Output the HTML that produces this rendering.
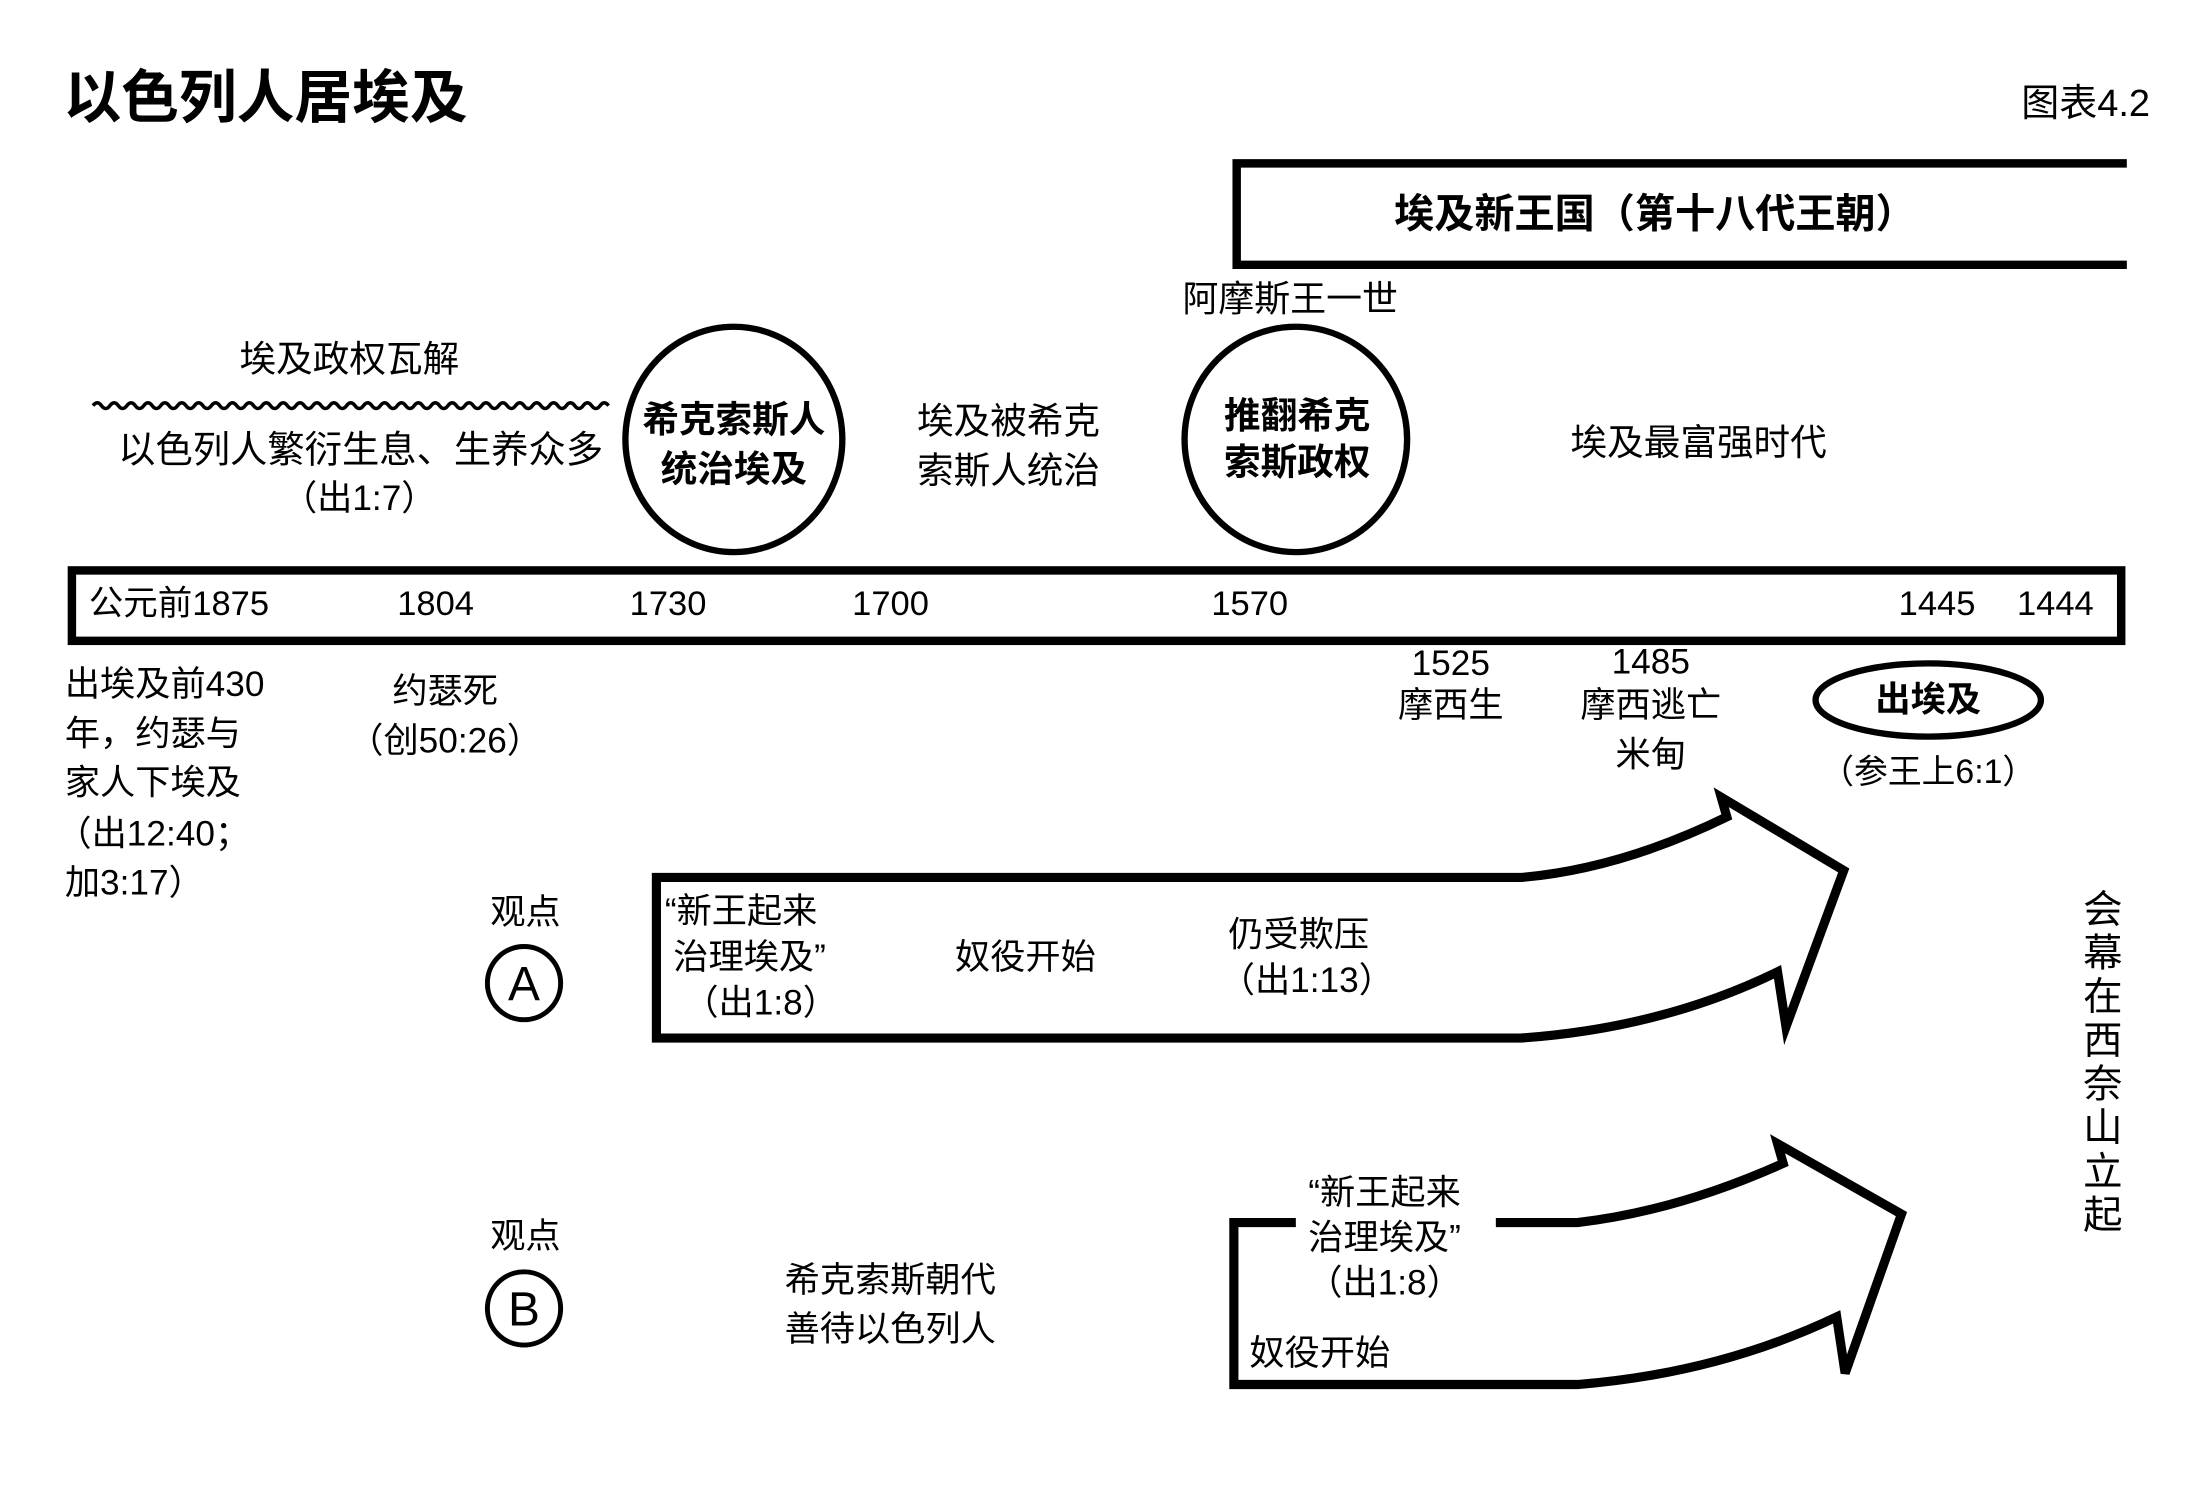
<!DOCTYPE html>
<html><head><meta charset="utf-8"><style>
html,body{margin:0;padding:0;background:#fff;}
svg{display:block;}
text{font-family:"Liberation Sans","Noto Sans CJK SC",sans-serif;fill:#000;dominant-baseline:central;}
.b{font-weight:bold;}
</style></head><body>
<svg width="2210" height="1500" viewBox="0 0 1569 1065" xmlns="http://www.w3.org/2000/svg">
<rect width="1569" height="1065" fill="#fff"/>
<text x="45" y="70" font-size="41" class="b">以色列人居埃及</text>
<text x="1435" y="74" font-size="27">图表4.2</text>

<path d="M1510,116 L878,116 L878,188 L1510,188" fill="none" stroke="#000" stroke-width="6"/>
<text x="1175" y="152" font-size="28.5" class="b" text-anchor="middle">埃及新王国（第十八代王朝）</text>
<text x="916" y="212" font-size="25.5" text-anchor="middle">阿摩斯王一世</text>

<text x="248" y="255" font-size="26" text-anchor="middle">埃及政权瓦解</text>
<path d="M66,288 q3,-4 6,0 t6,0 t6,0 t6,0 t6,0 t6,0 t6,0 t6,0 t6,0 t6,0 t6,0 t6,0 t6,0 t6,0 t6,0 t6,0 t6,0 t6,0 t6,0 t6,0 t6,0 t6,0 t6,0 t6,0 t6,0 t6,0 t6,0 t6,0 t6,0 t6,0 t6,0 t6,0 t6,0 t6,0 t6,0 t6,0 t6,0 t6,0 t6,0 t6,0 t6,0 t6,0 t6,0 t6,0 t6,0 t6,0 t6,0 t6,0 t6,0 t6,0 t6,0 t6,0 t6,0 t6,0 t6,0 t6,0 t6,0 t6,0 t6,0 t6,0 t6,0" fill="none" stroke="#000" stroke-width="2.5"/>
<text x="256" y="319" font-size="26.5" text-anchor="middle">以色列人繁衍生息、生养众多</text>
<text x="255" y="354" font-size="25" text-anchor="middle">（出1:7）</text>

<ellipse cx="521" cy="312" rx="77" ry="80" fill="#fff" stroke="#000" stroke-width="4.5"/>
<text x="521" y="298" font-size="26" class="b" text-anchor="middle">希克索斯人</text>
<text x="521" y="333" font-size="26" class="b" text-anchor="middle">统治埃及</text>

<text x="716" y="299" font-size="26" text-anchor="middle">埃及被希克</text>
<text x="716" y="334" font-size="26" text-anchor="middle">索斯人统治</text>

<ellipse cx="920" cy="312" rx="79" ry="80" fill="#fff" stroke="#000" stroke-width="4.5"/>
<text x="921" y="295" font-size="26" class="b" text-anchor="middle">推翻希克</text>
<text x="921" y="328" font-size="26" class="b" text-anchor="middle">索斯政权</text>

<text x="1206" y="314" font-size="26" text-anchor="middle">埃及最富强时代</text>

<rect x="51" y="405" width="1455" height="50" fill="#fff" stroke="#000" stroke-width="6"/>
<text x="63" y="429" font-size="24.5">公元前1875</text>
<text x="282" y="429" font-size="24.5">1804</text>
<text x="447" y="429" font-size="24.5">1730</text>
<text x="605" y="429" font-size="24.5">1700</text>
<text x="860" y="429" font-size="24.5">1570</text>
<text x="1348" y="429" font-size="24.5">1445</text>
<text x="1432" y="429" font-size="24.5">1444</text>

<text x="46" y="486" font-size="25">出埃及前430</text>
<text x="46" y="521" font-size="25">年，约瑟与</text>
<text x="46" y="556" font-size="25">家人下埃及</text>
<text x="40" y="592" font-size="25">（出12:40；</text>
<text x="46" y="627" font-size="25">加3:17）</text>

<text x="316" y="491" font-size="25" text-anchor="middle">约瑟死</text>
<text x="316" y="526" font-size="25" text-anchor="middle">（创50:26）</text>

<text x="1030" y="471" font-size="25" text-anchor="middle">1525</text>
<text x="1030" y="501" font-size="25" text-anchor="middle">摩西生</text>
<text x="1172" y="470" font-size="25" text-anchor="middle">1485</text>
<text x="1172" y="501" font-size="25" text-anchor="middle">摩西逃亡</text>
<text x="1172" y="536" font-size="25" text-anchor="middle">米甸</text>

<ellipse cx="1369" cy="497" rx="80" ry="26" fill="#fff" stroke="#000" stroke-width="4.5"/>
<text x="1369" y="497" font-size="25" class="b" text-anchor="middle">出埃及</text>
<text x="1369" y="548" font-size="24" text-anchor="middle">（参王上6:1）</text>

<text x="373" y="648" font-size="25" text-anchor="middle">观点</text>
<circle cx="372" cy="698" r="26" fill="#fff" stroke="#000" stroke-width="3.5"/>
<text x="372" y="699" font-size="34" text-anchor="middle">A</text>
<text x="373" y="878" font-size="25" text-anchor="middle">观点</text>
<circle cx="372" cy="929" r="26" fill="#fff" stroke="#000" stroke-width="3.5"/>
<text x="372" y="930" font-size="34" text-anchor="middle">B</text>

<path d="M466,623 L1080,623 Q1150,617 1226,580 L1222,566 L1309,618 L1268,729 L1262,690 Q1180,730 1080,737 L466,737 Z" fill="#fff" stroke="#000" stroke-width="6.5" stroke-linejoin="miter"/>
<text x="472" y="647" font-size="25">“新王起来</text>
<text x="478" y="680" font-size="25">治理埃及”</text>
<text x="540" y="712" font-size="25" text-anchor="middle">（出1:8）</text>
<text x="678" y="680" font-size="25">奴役开始</text>
<text x="872" y="664" font-size="25">仍受欺压</text>
<text x="866" y="696" font-size="25">（出1:13）</text>

<path d="M1062,868 L1120,868 Q1190,860 1266,826 L1262,812 L1350,862 L1310,975 L1304,935 Q1220,975 1120,983 L876,983 L876,868 L920,868" fill="none" stroke="#000" stroke-width="6.5" stroke-linejoin="miter"/>
<text x="983" y="847" font-size="25" text-anchor="middle">“新王起来</text>
<text x="983" y="879" font-size="25" text-anchor="middle">治理埃及”</text>
<text x="983" y="911" font-size="25" text-anchor="middle">（出1:8）</text>
<text x="887" y="961" font-size="25">奴役开始</text>

<text x="557" y="909" font-size="25">希克索斯朝代</text>
<text x="557" y="944" font-size="25">善待以色列人</text>

<g font-size="28" text-anchor="middle">
<text x="1493" y="646">会</text>
<text x="1493" y="677">幕</text>
<text x="1493" y="708">在</text>
<text x="1493" y="739">西</text>
<text x="1493" y="770">奈</text>
<text x="1493" y="801">山</text>
<text x="1493" y="832">立</text>
<text x="1493" y="863">起</text>
</g>
</svg>
</body></html>
